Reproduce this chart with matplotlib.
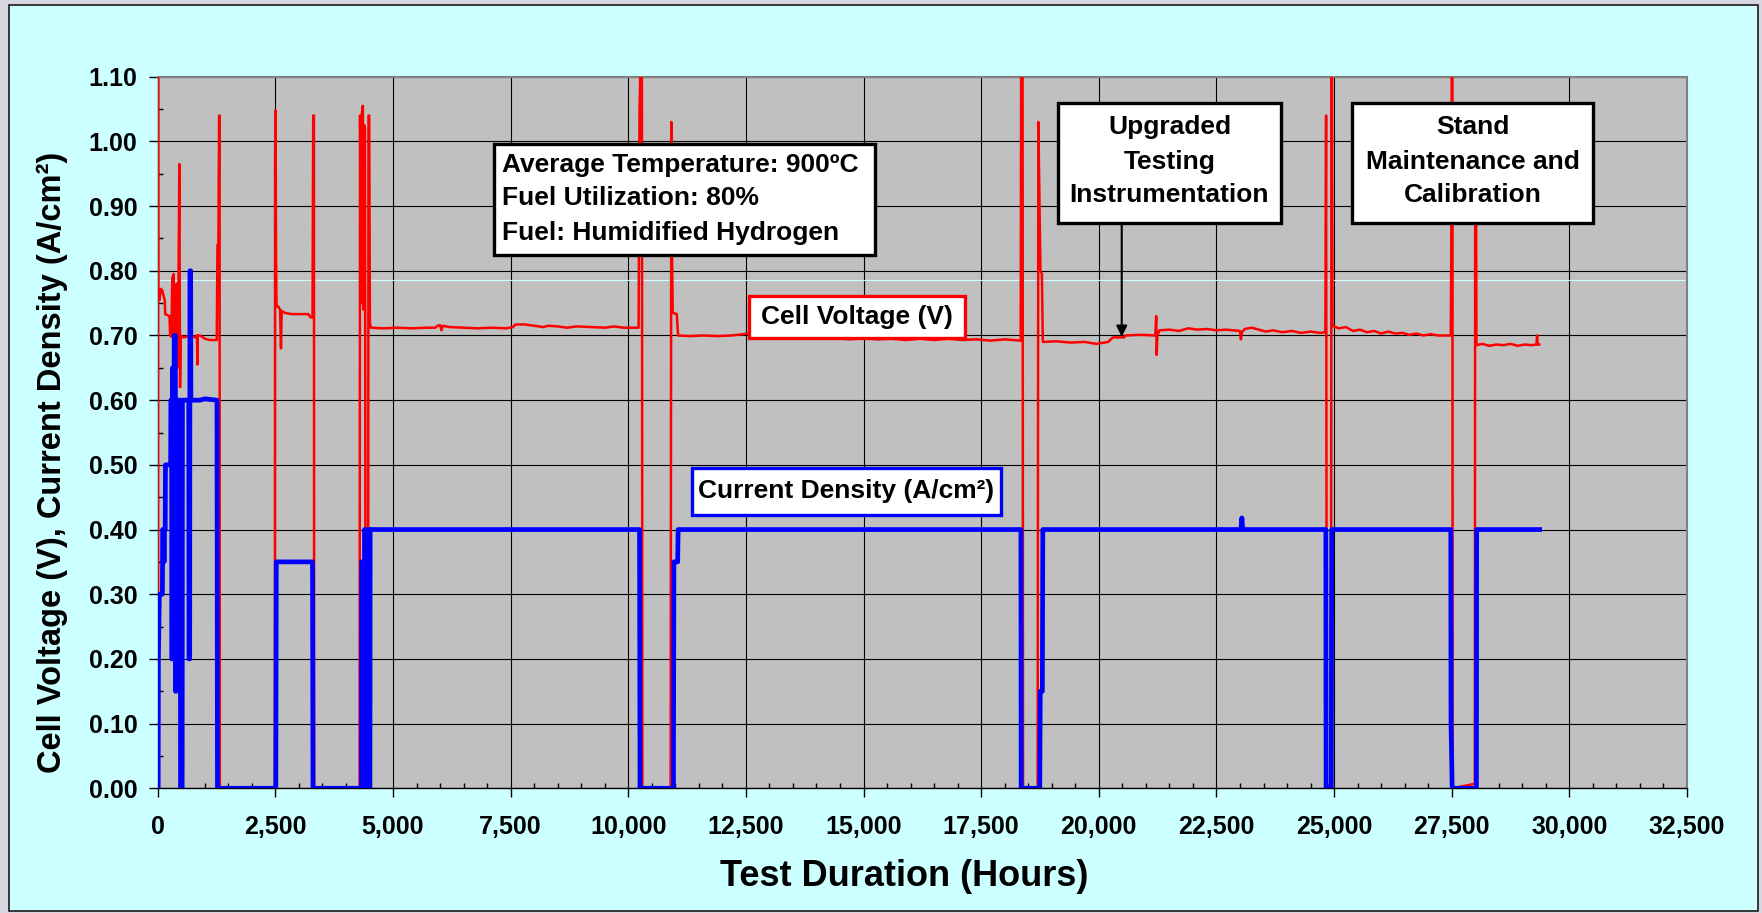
import matplotlib
matplotlib.use('Agg')
import matplotlib.pyplot as plt
from matplotlib.patches import Rectangle
from matplotlib.ticker import MultipleLocator, FuncFormatter

# ---------------- data ----------------
# Cell voltage (V) vs test duration (hours)
voltage_points = [
    (0, 0.0), (5, 1.12), (10, 0.76), (40, 0.755), (60, 0.772), (95, 0.77), (110, 0.765),
    (150, 0.755), (160, 0.733), (250, 0.73), (265, 0.70), (290, 0.698), (310, 0.79), (320, 0.70),
    (340, 0.795), (350, 0.62), (370, 0.76), (385, 0.68), (400, 0.78), (420, 0.65), (440, 0.76),
    (460, 0.965), (475, 0.62), (490, 0.70), (550, 0.697), (700, 0.70), (800, 0.697), (835, 0.70),
    (843, 0.655), (850, 0.70), (900, 0.70), (1000, 0.695), (1100, 0.693), (1255, 0.693),
    (1270, 0.84), (1290, 0.84), (1305, 1.04), (1315, 1.04), (1320, 0.0),
    (2490, 0.0), (2495, 0.98), (2505, 1.048), (2515, 0.82), (2525, 0.745), (2560, 0.745),
    (2600, 0.74), (2620, 0.68), (2635, 0.738), (2700, 0.735), (2850, 0.733), (3000, 0.733),
    (3200, 0.733), (3250, 0.728), (3290, 0.728), (3305, 1.04), (3320, 1.04), (3325, 0.0),
    (4290, 0.0), (4300, 1.04), (4320, 0.75), (4340, 1.045), (4360, 1.055), (4375, 0.74),
    (4390, 1.025), (4405, 1.02), (4420, 0.0), (4470, 0.0), (4480, 1.04), (4495, 1.04),
    (4510, 0.72), (4530, 0.712), (4800, 0.711), (5100, 0.712), (5400, 0.711), (5700, 0.712),
    (5900, 0.712), (5950, 0.715), (6000, 0.716), (6030, 0.708), (6060, 0.715), (6200, 0.713),
    (6500, 0.712), (6800, 0.711), (7100, 0.712), (7400, 0.711), (7550, 0.713), (7600, 0.717),
    (7800, 0.717), (8000, 0.715), (8200, 0.713), (8300, 0.715), (8500, 0.714), (8700, 0.712),
    (8900, 0.714), (9200, 0.713), (9500, 0.712), (9700, 0.714), (9900, 0.712), (10220, 0.712),
    (10240, 1.05), (10260, 1.12), (10290, 1.12), (10300, 0.0),
    (10900, 0.0), (10915, 1.03), (10930, 0.83), (10945, 0.735), (11030, 0.733), (11060, 0.70),
    (11300, 0.699), (11600, 0.70), (11900, 0.699), (12200, 0.70), (12450, 0.702), (12550, 0.703),
    (12600, 0.697), (12900, 0.696), (13200, 0.697), (13500, 0.695), (13800, 0.697), (14100, 0.695),
    (14400, 0.696), (14700, 0.694), (15000, 0.696), (15300, 0.694), (15600, 0.695), (15900, 0.693),
    (16200, 0.695), (16500, 0.693), (16800, 0.695), (17100, 0.693), (17400, 0.694), (17700, 0.692),
    (18000, 0.694), (18340, 0.692), (18350, 1.12), (18380, 1.12), (18390, 0.0),
    (18700, 0.0), (18715, 1.03), (18760, 0.80), (18790, 0.795), (18810, 0.69), (19100, 0.691),
    (19400, 0.689), (19700, 0.69), (19950, 0.687), (20200, 0.69), (20300, 0.697), (20540, 0.697),
    (20560, 0.70), (20900, 0.701), (21200, 0.70), (21220, 0.73), (21230, 0.67), (21245, 0.70),
    (21290, 0.708), (21500, 0.709), (21700, 0.707), (21900, 0.711), (22100, 0.709), (22300, 0.71),
    (22500, 0.708), (22700, 0.709), (23000, 0.707), (23020, 0.694), (23040, 0.705), (23100, 0.71),
    (23250, 0.712), (23400, 0.709), (23550, 0.706), (23700, 0.708), (23900, 0.705), (24100, 0.707),
    (24300, 0.704), (24500, 0.706), (24700, 0.704), (24815, 0.705), (24830, 1.04), (24845, 0.005),
    (24935, 0.005), (24945, 1.12), (24955, 1.12), (24965, 0.715), (25100, 0.711), (25250, 0.713),
    (25400, 0.707), (25550, 0.709), (25700, 0.705), (25850, 0.707), (26000, 0.703), (26150, 0.706),
    (26300, 0.703), (26450, 0.704), (26600, 0.701), (26750, 0.703), (26900, 0.70), (27050, 0.702),
    (27200, 0.70), (27480, 0.70), (27490, 0.82), (27500, 1.12), (27515, 1.12), (27520, 0.0),
    (27990, 0.007), (28000, 1.03), (28015, 1.03), (28025, 0.685), (28150, 0.687), (28300, 0.684),
    (28450, 0.686), (28600, 0.685), (28750, 0.687), (28900, 0.684), (29050, 0.686), (29200, 0.685),
    (29300, 0.686), (29315, 0.70), (29325, 0.686), (29360, 0.686),
]

# Current density (A/cm2) vs test duration (hours)
current_points = [
    (0, 0.0), (10, 0.0), (15, 0.20), (25, 0.25), (35, 0.30), (100, 0.30), (105, 0.40), (130, 0.40),
    (135, 0.35), (140, 0.40), (160, 0.40), (165, 0.50), (275, 0.50), (280, 0.60), (295, 0.60),
    (300, 0.20), (310, 0.20), (315, 0.65), (330, 0.65), (335, 0.20), (345, 0.20), (350, 0.70),
    (375, 0.70), (380, 0.15), (390, 0.15), (395, 0.60), (410, 0.60), (415, 0.20), (425, 0.20),
    (430, 0.60), (445, 0.60), (450, 0.30), (460, 0.30), (465, 0.60), (480, 0.60), (485, 0.0),
    (520, 0.0), (525, 0.60), (660, 0.60), (665, 0.20), (680, 0.20), (685, 0.80), (700, 0.80),
    (705, 0.60), (900, 0.60), (1000, 0.602), (1260, 0.60), (1270, 0.0),
    (2510, 0.0), (2520, 0.35), (3290, 0.35), (3300, 0.0),
    (4330, 0.0), (4335, 0.35), (4360, 0.35), (4365, 0.0), (4390, 0.0), (4395, 0.40), (4420, 0.40),
    (4425, 0.0), (4470, 0.0), (4475, 0.40), (4490, 0.40), (4495, 0.0), (4510, 0.0), (4515, 0.40),
    (10240, 0.40), (10250, 0.0), (10960, 0.0), (10970, 0.35), (11050, 0.35), (11060, 0.40),
    (18345, 0.40), (18350, 0.0), (18745, 0.0), (18755, 0.15), (18800, 0.15), (18810, 0.40),
    (23020, 0.40), (23040, 0.418), (23060, 0.40), (24825, 0.40), (24830, 0.0), (24940, 0.0),
    (24950, 0.40), (27480, 0.40), (27485, 0.10), (27510, 0.0), (28025, 0.0), (28030, 0.40),
    (29370, 0.40),
]

ref_line_value = 0.786   # faint light line visible across the plot
x_limits = (0, 32500)
y_limits = (0.0, 1.10)

note_main = ["Average Temperature: 900\u00baC", "Fuel Utilization: 80%", "Fuel: Humidified Hydrogen"]
note_upgrade = ["Upgraded", "Testing", "Instrumentation"]
note_stand = ["Stand", "Maintenance and", "Calibration"]
label_voltage = "Cell Voltage (V)"
label_current = "Current Density (A/cm\u00b2)"
arrow_target = (20487, 0.698)

volt_hours = [p[0] for p in voltage_points]
volt_values = [p[1] for p in voltage_points]
curr_hours = [p[0] for p in current_points]
curr_values = [p[1] for p in current_points]

# ---------------- figure ----------------
plt.rcParams['font.family'] = ['Liberation Sans', 'DejaVu Sans']
plt.rcParams['font.weight'] = 'bold'

W, H = 1762, 913
fig = plt.figure(figsize=(W / 100, H / 100), dpi=100)
fig.patch.set_facecolor('#D6D6DE')
fig.add_artist(Rectangle((9 / W, 1 - 911 / H), (1758 - 9) / W, (911 - 5) / H,
                         transform=fig.transFigure, facecolor='#CCFFFF',
                         edgecolor='#1A1A1A', lw=1.2, zorder=-10))

L, R, T, B = 157.7, 1687.0, 76.7, 788.3
ax = fig.add_axes([L / W, 1 - B / H, (R - L) / W, (B - T) / H])
ax.set_facecolor('#C0C0C0')
ax.set_xlim(*x_limits)
ax.set_ylim(*y_limits)

ax.set_axisbelow(True)
ax.xaxis.set_major_locator(MultipleLocator(2500))
ax.xaxis.set_minor_locator(MultipleLocator(500))
ax.yaxis.set_major_locator(MultipleLocator(0.1))
ax.yaxis.set_minor_locator(MultipleLocator(0.05))
ax.xaxis.set_major_formatter(FuncFormatter(lambda v, p: f'{int(round(v)):,}'))
ax.yaxis.set_major_formatter(FuncFormatter(lambda v, p: f'{v:.2f}'))
ax.grid(which='major', color='black', lw=0.8)
ax.tick_params(which='major', direction='out', length=6.5, width=1.0, color='black', labelsize=18)
ax.tick_params(which='minor', direction='in', length=3.6, width=1.0, color='black')
ax.tick_params(axis='x', which='major', pad=13)
ax.tick_params(axis='y', which='major', pad=8)
for s in ('top', 'right'):
    ax.spines[s].set_color('#808080')
    ax.spines[s].set_linewidth(1.5)
for s in ('left', 'bottom'):
    ax.spines[s].set_color('black')
    ax.spines[s].set_linewidth(1.0)

ax.axhline(ref_line_value, color='#CCFFFF', lw=0.8, zorder=1.5)

ax.plot(volt_hours, volt_values, color='#FF0000', lw=1.8, zorder=3)
ax.plot(curr_hours, curr_values, color='#0000FF', lw=3.4, zorder=4)


def box(x0, x1, y0, y1, ec):
    ax.add_patch(Rectangle((x0, y0), x1 - x0, y1 - y0, facecolor='white', edgecolor=ec,
                           lw=2.4, zorder=6, clip_on=False))


FS = 19
# main conditions box
box(7141, 15244, 0.8241, 0.9959, 'black')
for txt, yv in zip(note_main, [0.9637, 0.9127, 0.8586]):
    ax.text(7320, yv, txt, fontsize=FS, ha='left', va='center', zorder=7)

# upgraded instrumentation box
box(19133, 23871, 0.8741, 1.0597, 'black')
for txt, yv in zip(note_upgrade, [1.0222, 0.9681, 0.9170]):
    ax.text(21502, yv, txt, fontsize=FS, ha='center', va='center', zorder=7)

# stand maintenance box
box(25382, 30504, 0.8741, 1.0597, 'black')
for txt, yv in zip(note_stand, [1.0222, 0.9681, 0.9170]):
    ax.text(27942, yv, txt, fontsize=FS, ha='center', va='center', zorder=7)

# series label boxes
box(12566, 17157, 0.6961, 0.7611, '#FF0000')
ax.text(14860, 0.7289, label_voltage, fontsize=FS, ha='center', va='center', zorder=7)
box(11355, 17922, 0.4225, 0.4951, '#0000FF')
ax.text(14638, 0.4588, label_current, fontsize=FS, ha='center', va='center', zorder=7)

ax.annotate('', xy=arrow_target, xytext=(arrow_target[0], 0.874),
            arrowprops=dict(arrowstyle='-|>', color='black', lw=1.5, mutation_scale=16,
                            shrinkA=0, shrinkB=0), zorder=6)

fig.text(904.5 / W, 1 - 876 / H, 'Test Duration (Hours)', fontsize=26, ha='center', va='center')
fig.text(52 / W, 1 - 462 / H, 'Cell Voltage (V), Current Density (A/cm\u00b2)', fontsize=23.5,
         rotation=90, ha='center', va='center')

fig.savefig('out.png', dpi=100, facecolor=fig.get_facecolor())
